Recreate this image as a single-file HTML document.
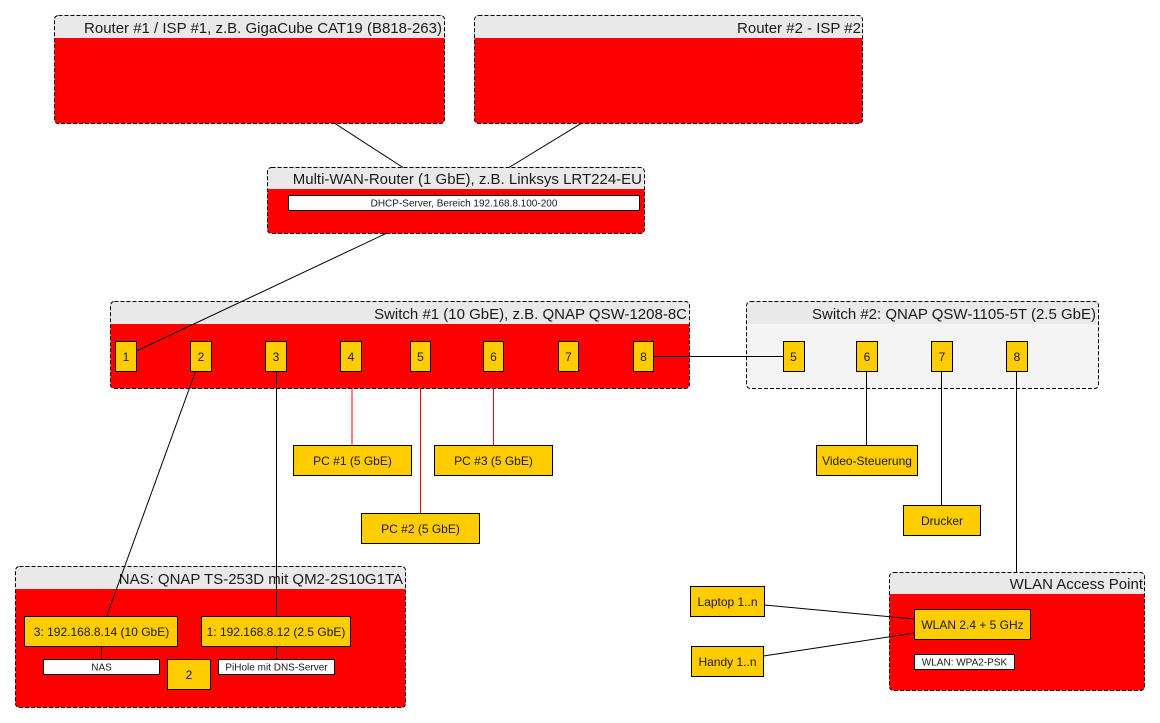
<!DOCTYPE html>
<html>
<head>
<meta charset="utf-8">
<style>
html,body{margin:0;padding:0;background:#fff;width:1160px;height:723px;overflow:hidden}
svg{display:block}
text{font-family:"Liberation Sans",sans-serif;fill:#1a1a1a}
.h{font-size:15px;text-anchor:end}
.n{font-size:12px;text-anchor:middle}
.w{font-size:10px;text-anchor:middle}
.box{fill:#ffcc00;stroke:#000;stroke-width:1}
.wb{fill:#fff;stroke:#000;stroke-width:1}
.o{fill:none;stroke:#000;stroke-width:1;stroke-dasharray:4 2}
.l{fill:none;stroke:#000;stroke-width:1}
.r{fill:none;stroke:#ff0000;stroke-width:1}
.hd{fill:#e9e9e9}
.red{fill:#ff0000}
</style>
</head>
<body>
<svg xmlns="http://www.w3.org/2000/svg" width="1160" height="723" viewBox="0 0 1160 723">
<!-- Router 1 -->
<rect class="red" x="54.5" y="15.5" width="390" height="108" rx="4"/>
<path class="hd" d="M54.5 38V19.5a4 4 0 0 1 4-4h382a4 4 0 0 1 4 4V38Z"/>
<rect class="o" x="54.5" y="15.5" width="390" height="108" rx="4"/>
<text class="h" x="442" y="33">Router #1 / ISP #1, z.B. GigaCube CAT19 (B818-263)</text>
<!-- Router 2 -->
<rect class="red" x="474.5" y="15.5" width="388" height="108" rx="4"/>
<path class="hd" d="M474.5 38V19.5a4 4 0 0 1 4-4h380a4 4 0 0 1 4 4V38Z"/>
<rect class="o" x="474.5" y="15.5" width="388" height="108" rx="4"/>
<text class="h" x="861" y="33">Router #2 - ISP #2</text>
<!-- Multi-WAN -->
<rect class="red" x="267.5" y="167.5" width="377" height="66" rx="4"/>
<path class="hd" d="M267.5 189V171.5a4 4 0 0 1 4-4h369a4 4 0 0 1 4 4V189Z"/>
<rect class="o" x="267.5" y="167.5" width="377" height="66" rx="4"/>
<text class="h" x="642" y="184">Multi-WAN-Router (1 GbE), z.B. Linksys LRT224-EU</text>
<rect class="wb" x="288.5" y="195.5" width="351" height="15"/>
<text class="w" x="464" y="206.5">DHCP-Server, Bereich 192.168.8.100-200</text>
<!-- Switch 1 -->
<rect class="red" x="110.5" y="301.5" width="579" height="87" rx="4"/>
<path class="hd" d="M110.5 324V305.5a4 4 0 0 1 4-4h571a4 4 0 0 1 4 4V324Z"/>
<rect class="o" x="110.5" y="301.5" width="579" height="87" rx="4"/>
<text class="h" x="687" y="319">Switch #1 (10 GbE), z.B. QNAP QSW-1208-8C</text>
<!-- Switch 2 -->
<rect fill="#f4f4f4" x="746.5" y="301.5" width="352" height="87" rx="4"/>
<path class="hd" d="M746.5 324V305.5a4 4 0 0 1 4-4h344a4 4 0 0 1 4 4V324Z"/>
<rect class="o" x="746.5" y="301.5" width="352" height="87" rx="4"/>
<text class="h" x="1096" y="319">Switch #2: QNAP QSW-1105-5T (2.5 GbE)</text>
<!-- NAS -->
<rect class="red" x="15.5" y="566.5" width="390" height="141" rx="4"/>
<path class="hd" d="M15.5 589V570.5a4 4 0 0 1 4-4h382a4 4 0 0 1 4 4V589Z"/>
<rect class="o" x="15.5" y="566.5" width="390" height="141" rx="4"/>
<text class="h" x="403" y="584">NAS: QNAP TS-253D mit QM2-2S10G1TA</text>
<!-- WLAN AP -->
<rect class="red" x="889.5" y="572.5" width="255" height="118" rx="4"/>
<path class="hd" d="M889.5 594V576.5a4 4 0 0 1 4-4h247a4 4 0 0 1 4 4V594Z"/>
<rect class="o" x="889.5" y="572.5" width="255" height="118" rx="4"/>
<text class="h" x="1143" y="589">WLAN Access Point</text>

<!-- Connectors -->
<path class="l" d="M335 123.5L403 167.5"/>
<path class="l" d="M581 123.5L509 167.5"/>
<path class="l" d="M386 233.5L136.5 351"/>
<path class="l" d="M195.5 371.5L106.5 616.5"/>
<path class="l" d="M276.5 371.5V616.5"/>
<path class="r" d="M352 371.5V445.5"/>
<path class="r" d="M420.5 371.5V513.5"/>
<path class="r" d="M493.5 371.5V445.5"/>
<path class="l" d="M653.5 356.5H783.5"/>
<path class="l" d="M866.5 371.5V445.5"/>
<path class="l" d="M941.5 371.5V505.5"/>
<path class="l" d="M1016.5 371.5V572.5"/>
<path class="l" d="M101.5 646.5V659.5"/>
<path class="l" d="M276.5 646.5V659.5"/>
<path class="l" d="M764.5 605L914.5 619"/>
<path class="l" d="M763.5 656L914.5 633"/>

<!-- Switch 1 ports -->
<rect class="box" x="115.5" y="341.5" width="21" height="30"/><text class="n" x="126" y="361">1</text>
<rect class="box" x="190.5" y="341.5" width="21" height="30"/><text class="n" x="201" y="361">2</text>
<rect class="box" x="265.5" y="341.5" width="21" height="30"/><text class="n" x="276" y="361">3</text>
<rect class="box" x="340.5" y="341.5" width="21" height="30"/><text class="n" x="351" y="361">4</text>
<rect class="box" x="410.5" y="341.5" width="20" height="30"/><text class="n" x="420.5" y="361">5</text>
<rect class="box" x="483.5" y="341.5" width="20" height="30"/><text class="n" x="493.5" y="361">6</text>
<rect class="box" x="558.5" y="341.5" width="20" height="30"/><text class="n" x="568.5" y="361">7</text>
<rect class="box" x="633.5" y="341.5" width="20" height="30"/><text class="n" x="643.5" y="361">8</text>
<!-- Switch 2 ports -->
<rect class="box" x="783.5" y="341.5" width="21" height="30"/><text class="n" x="793.5" y="361">5</text>
<rect class="box" x="856.5" y="341.5" width="21" height="30"/><text class="n" x="867" y="361">6</text>
<rect class="box" x="931.5" y="341.5" width="21" height="30"/><text class="n" x="942" y="361">7</text>
<rect class="box" x="1006.5" y="341.5" width="21" height="30"/><text class="n" x="1017" y="361">8</text>
<!-- PCs -->
<rect class="box" x="293.5" y="445.5" width="118" height="30"/><text class="n" x="352.5" y="465">PC #1 (5 GbE)</text>
<rect class="box" x="434.5" y="445.5" width="118" height="30"/><text class="n" x="493.5" y="465">PC #3 (5 GbE)</text>
<rect class="box" x="361.5" y="513.5" width="118" height="30"/><text class="n" x="420.5" y="533">PC #2 (5 GbE)</text>
<rect class="box" x="816.5" y="445.5" width="101" height="30"/><text class="n" x="867" y="465">Video-Steuerung</text>
<rect class="box" x="903.5" y="505.5" width="77" height="30"/><text class="n" x="942" y="525">Drucker</text>
<!-- NAS contents -->
<rect class="box" x="24.5" y="616.5" width="153" height="30"/><text class="n" x="101.5" y="636">3: 192.168.8.14 (10 GbE)</text>
<rect class="box" x="201.5" y="616.5" width="149" height="30"/><text class="n" x="276" y="636">1: 192.168.8.12 (2.5 GbE)</text>
<rect class="wb" x="43.5" y="659.5" width="116" height="15"/><text class="w" x="101.5" y="670.5">NAS</text>
<rect class="box" x="167.5" y="659.5" width="43" height="30"/><text class="n" x="189" y="679">2</text>
<rect class="wb" x="218.5" y="659.5" width="116" height="15"/><text class="w" x="276.5" y="670.5">PiHole mit DNS-Server</text>
<!-- WLAN contents -->
<rect class="box" x="914.5" y="609.5" width="116" height="30"/><text class="n" x="972.5" y="629">WLAN 2.4 + 5 GHz</text>
<rect class="wb" x="914.5" y="654.5" width="100" height="15"/><text class="w" x="964.5" y="665.5">WLAN: WPA2-PSK</text>
<rect class="box" x="690.5" y="586.5" width="74" height="30"/><text class="n" x="727.5" y="606">Laptop 1..n</text>
<rect class="box" x="691.5" y="646.5" width="72" height="30"/><text class="n" x="727.5" y="666">Handy 1..n</text>
</svg>
</body>
</html>
